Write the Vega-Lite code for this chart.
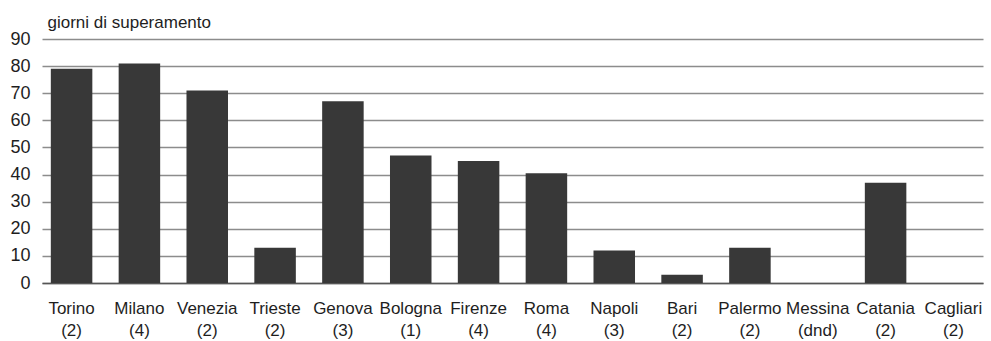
{
  "$schema": "https://vega.github.io/schema/vega-lite/v6.json",
  "width": 941,
  "height": 244,
  "autosize": "none",
  "padding": {"left": 42, "top": 39, "right": 8, "bottom": 58},
  "background": "white",
  "data": {
    "values": [
      {"citta": "Torino (2)", "giorni": 79},
      {"citta": "Milano (4)", "giorni": 81},
      {"citta": "Venezia (2)", "giorni": 71},
      {"citta": "Trieste (2)", "giorni": 13},
      {"citta": "Genova (3)", "giorni": 67},
      {"citta": "Bologna (1)", "giorni": 47},
      {"citta": "Firenze (4)", "giorni": 45},
      {"citta": "Roma (4)", "giorni": 40.5},
      {"citta": "Napoli (3)", "giorni": 12},
      {"citta": "Bari (2)", "giorni": 3},
      {"citta": "Palermo (2)", "giorni": 13},
      {"citta": "Messina (dnd)", "giorni": 0},
      {"citta": "Catania (2)", "giorni": 37},
      {"citta": "Cagliari (2)", "giorni": 0}
    ]
  },
  "config": {
    "view": {"stroke": null},
    "font": "Liberation Sans"
  },
  "mark": {"type": "bar", "color": "#383838"},
  "encoding": {
    "x": {
      "field": "citta",
      "type": "nominal",
      "sort": null,
      "scale": {"paddingInner": 0.388, "paddingOuter": 0.13},
      "axis": {
        "title": null,
        "labelAngle": 0,
        "labelExpr": "split(datum.value, ' ')",
        "labelFont": "Liberation Sans",
        "labelFontSize": 17,
        "labelColor": "#1e1e1e",
        "labelLineHeight": 22,
        "labelPadding": 17,
        "labelBaseline": "top",
        "ticks": false,
        "domain": true,
        "domainColor": "#555555",
        "domainWidth": 1.5,
        "grid": false
      }
    },
    "y": {
      "field": "giorni",
      "type": "quantitative",
      "scale": {"domain": [0, 90], "nice": false},
      "axis": {
        "values": [0, 10, 20, 30, 40, 50, 60, 70, 80, 90],
        "title": "giorni di superamento",
        "titleAngle": 0,
        "titleAlign": "left",
        "titleBaseline": "alphabetic",
        "titleX": 5,
        "titleY": -12,
        "titleFont": "Liberation Sans",
        "titleFontSize": 17,
        "titleFontWeight": "normal",
        "titleColor": "#1e1e1e",
        "labelFont": "Liberation Sans",
        "labelFontSize": 18,
        "labelColor": "#1e1e1e",
        "labelPadding": 12,
        "ticks": false,
        "domain": false,
        "grid": true,
        "gridColor": "#8c8c8c",
        "gridWidth": 1.5
      }
    }
  }
}
